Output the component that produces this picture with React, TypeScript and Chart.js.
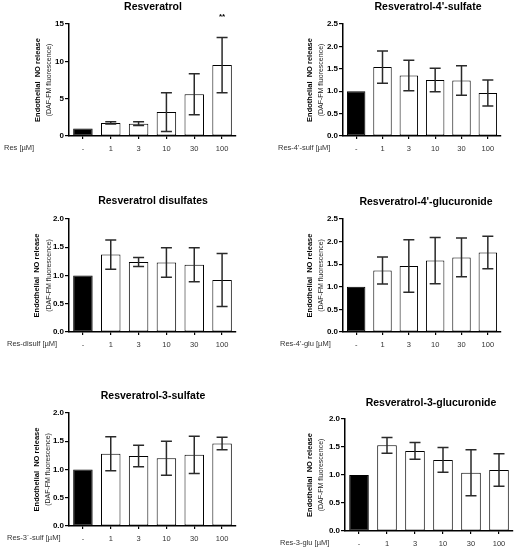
import React, { useEffect, useRef } from 'react';
import { Chart, registerables } from 'chart.js';

Chart.register(...registerables);

const FONT = '"Liberation Sans", Arial, sans-serif';

// ---- data ----
const categories = ['-', '1', '3', '10', '30', '100'];

const resMean = [1.0, 1.75, 1.65, 3.2, 5.6, 9.5];
const resErr = [0, 0.15, 0.25, 2.6, 2.75, 3.7];

const sulf4Mean = [1.0, 1.54, 1.35, 1.25, 1.24, 0.96];
const sulf4Err = [0, 0.36, 0.34, 0.26, 0.33, 0.29];

const disulfMean = [1.0, 1.37, 1.24, 1.23, 1.19, 0.92];
const disulfErr = [0, 0.26, 0.08, 0.26, 0.3, 0.47];

const glu4Mean = [1.0, 1.36, 1.46, 1.58, 1.65, 1.76];
const glu4Err = [0, 0.3, 0.58, 0.51, 0.43, 0.36];

const sulf3Mean = [1.0, 1.28, 1.24, 1.2, 1.26, 1.46];
const sulf3Err = [0, 0.3, 0.19, 0.3, 0.33, 0.11];

const glu3Mean = [1.0, 1.53, 1.43, 1.27, 1.04, 1.09];
const glu3Err = [0, 0.14, 0.15, 0.22, 0.41, 0.29];

const titles = [
  'Resveratrol',
  "Resveratrol-4'-sulfate",
  'Resveratrol disulfates',
  "Resveratrol-4'-glucuronide",
  'Resveratrol-3-sulfate',
  'Resveratrol-3-glucuronide',
];
const rowLabels = [
  'Res [µM]',
  "Res-4'-sulf [µM]",
  'Res-disulf [µM]',
  "Res-4'-glu [µM]",
  'Res-3´-sulf [µM]',
  'Res-3-glu [µM]',
];
const yMaxes = [15, 2.5, 2.0, 2.5, 2.0, 2.0];
const yStepsList = [5, 0.5, 0.5, 0.5, 0.5, 0.5];
const significance = ['**', '', '', '', '', ''];
const yTitle1 = 'Endothelial  NO release';
const yTitle2 = '(DAF-FM fluorescence)';

const means = [resMean, sulf4Mean, disulfMean, glu4Mean, sulf3Mean, glu3Mean];
const errs = [resErr, sulf4Err, disulfErr, glu4Err, sulf3Err, glu3Err];

// ---- layout (positions / sizes) ----
type Layout = {
  left: number; top: number; w: number; h: number;
  yWidth: number; padRight: number; padTop: number; xHeight: number;
  titleX: number; titleY: number; rowX: number; yt1: number; yt2: number;
};
const layouts: Layout[] = [
  { left: 0, top: 0, w: 258, h: 180, yWidth: 69, padRight: 22, padTop: 24, xHeight: 44, titleX: 153, titleY: 7, rowX: 4, yt1: 38, yt2: 49 },
  { left: 258, top: 0, w: 258, h: 180, yWidth: 85, padRight: 15, padTop: 24, xHeight: 44, titleX: 170, titleY: 7, rowX: 20, yt1: 52, yt2: 63 },
  { left: 0, top: 180, w: 258, h: 180, yWidth: 69, padRight: 22, padTop: 39, xHeight: 28, titleX: 153, titleY: 21, rowX: 7, yt1: 37, yt2: 49 },
  { left: 258, top: 180, w: 258, h: 180, yWidth: 85, padRight: 15, padTop: 39, xHeight: 28, titleX: 168, titleY: 22, rowX: 22, yt1: 52, yt2: 63 },
  { left: 0, top: 360, w: 258, h: 190, yWidth: 69, padRight: 22, padTop: 53, xHeight: 24, titleX: 153, titleY: 36, rowX: 7, yt1: 37, yt2: 48 },
  { left: 258, top: 360, w: 258, h: 190, yWidth: 87, padRight: 3, padTop: 59, xHeight: 19, titleX: 173, titleY: 43, rowX: 22, yt1: 52, yt2: 63 },
];

function Panel({ idx }: { idx: number }) {
  const ref = useRef<HTMLCanvasElement>(null);
  const L = layouts[idx];
  useEffect(() => {
    if (!ref.current) return;
    const mean = means[idx];
    const err = errs[idx];
    const decimals = yMaxes[idx] >= 10 ? 0 : 1;

    const decor = {
      id: 'decor' + idx,
      afterDatasetsDraw(chart: any) {
        const ctx = chart.ctx;
        const yScale = chart.scales.y;
        const meta = chart.getDatasetMeta(0);
        ctx.save();
        ctx.strokeStyle = '#2a2a2a';
        ctx.lineWidth = 1.5;
        meta.data.forEach((bar: any, i: number) => {
          if (!err[i]) return;
          const x = bar.x;
          const yt = yScale.getPixelForValue(mean[i] + err[i]);
          const yb = yScale.getPixelForValue(mean[i] - err[i]);
          const cw = 5.5;
          ctx.beginPath();
          ctx.moveTo(x, yt);
          ctx.lineTo(x, yb);
          ctx.moveTo(x - cw, yt);
          ctx.lineTo(x + cw, yt);
          ctx.moveTo(x - cw, yb);
          ctx.lineTo(x + cw, yb);
          ctx.stroke();
        });
        ctx.restore();
      },
      afterDraw(chart: any) {
        const ctx = chart.ctx;
        const area = chart.chartArea;
        const meta = chart.getDatasetMeta(0);
        ctx.save();
        ctx.fillStyle = '#000';
        ctx.font = `bold 10.5px ${FONT}`;
        ctx.textAlign = 'center';
        ctx.textBaseline = 'middle';
        ctx.fillText(titles[idx], L.titleX, L.titleY);
        const sig = significance[idx];
        if (sig) {
          ctx.font = `bold 8px ${FONT}`;
          const last = meta.data[meta.data.length - 1];
          ctx.fillText(sig, last.x, area.top - 7);
        }
        ctx.font = `7.5px ${FONT}`;
        ctx.fillStyle = '#333';
        ctx.textAlign = 'left';
        ctx.fillText(rowLabels[idx], L.rowX, area.bottom + 12);
        const cy = (area.top + area.bottom) / 2;
        ctx.fillStyle = '#000';
        ctx.textAlign = 'center';
        ctx.save();
        ctx.translate(L.yt1, cy);
        ctx.rotate(-Math.PI / 2);
        ctx.font = `bold 7.5px ${FONT}`;
        ctx.fillText(yTitle1, 0, 0);
        ctx.restore();
        ctx.save();
        ctx.translate(L.yt2, cy);
        ctx.rotate(-Math.PI / 2);
        ctx.font = `7px ${FONT}`;
        ctx.fillStyle = '#222';
        ctx.fillText(yTitle2, 0, 0);
        ctx.restore();
        ctx.restore();
      },
    };

    const chart = new Chart(ref.current, {
      type: 'bar',
      data: {
        labels: categories,
        datasets: [
          {
            data: mean,
            backgroundColor: mean.map((_, i) => (i === 0 ? '#000' : '#fff')),
            borderColor: '#000',
            borderWidth: 1,
            borderSkipped: false,
            categoryPercentage: 1,
            barPercentage: 0.7,
          },
        ],
      },
      options: {
        responsive: false,
        animation: false,
        events: [],
        layout: { padding: { left: 0, right: L.padRight, top: L.padTop, bottom: 0 } },
        plugins: { legend: { display: false }, tooltip: { enabled: false }, title: { display: false } },
        scales: {
          x: {
            offset: true,
            grid: { display: true, offset: false, drawOnChartArea: false, drawTicks: true, tickLength: 3, color: '#000', lineWidth: 1.2 },
            border: { display: true, color: '#000', width: 1.5 },
            ticks: {
              autoSkip: false,
              maxRotation: 0,
              padding: 5,
              color: '#333',
              font: { family: FONT, size: 7.5 },
            },
            afterFit(scale: any) {
              scale.height = L.xHeight;
              scale.paddingLeft = 0;
              scale.paddingRight = 0;
            },
          },
          y: {
            min: 0,
            max: yMaxes[idx],
            grid: { display: true, drawOnChartArea: false, drawTicks: true, tickLength: 4, color: '#000', lineWidth: 1.2 },
            border: { display: true, color: '#000', width: 1.5 },
            ticks: {
              stepSize: yStepsList[idx],
              padding: 1,
              color: '#000',
              font: { family: FONT, size: 8, weight: 'bold' },
              callback: (v: any) => Number(v).toFixed(decimals),
            },
            afterFit(scale: any) {
              scale.width = L.yWidth;
              scale.paddingTop = 0;
              scale.paddingBottom = 0;
            },
          },
        },
      } as any,
      plugins: [decor],
    });
    return () => chart.destroy();
  }, [idx]);
  return (
    <canvas
      ref={ref}
      width={L.w}
      height={L.h}
      style={{ position: 'absolute', left: L.left, top: L.top, width: L.w, height: L.h }}
    />
  );
}

export default function App() {
  return (
    <div style={{ position: 'absolute', left: 0, top: 0, width: 516, height: 550, background: '#fff' }}>
      {titles.map((_, i) => (
        <Panel key={i} idx={i} />
      ))}
    </div>
  );
}
